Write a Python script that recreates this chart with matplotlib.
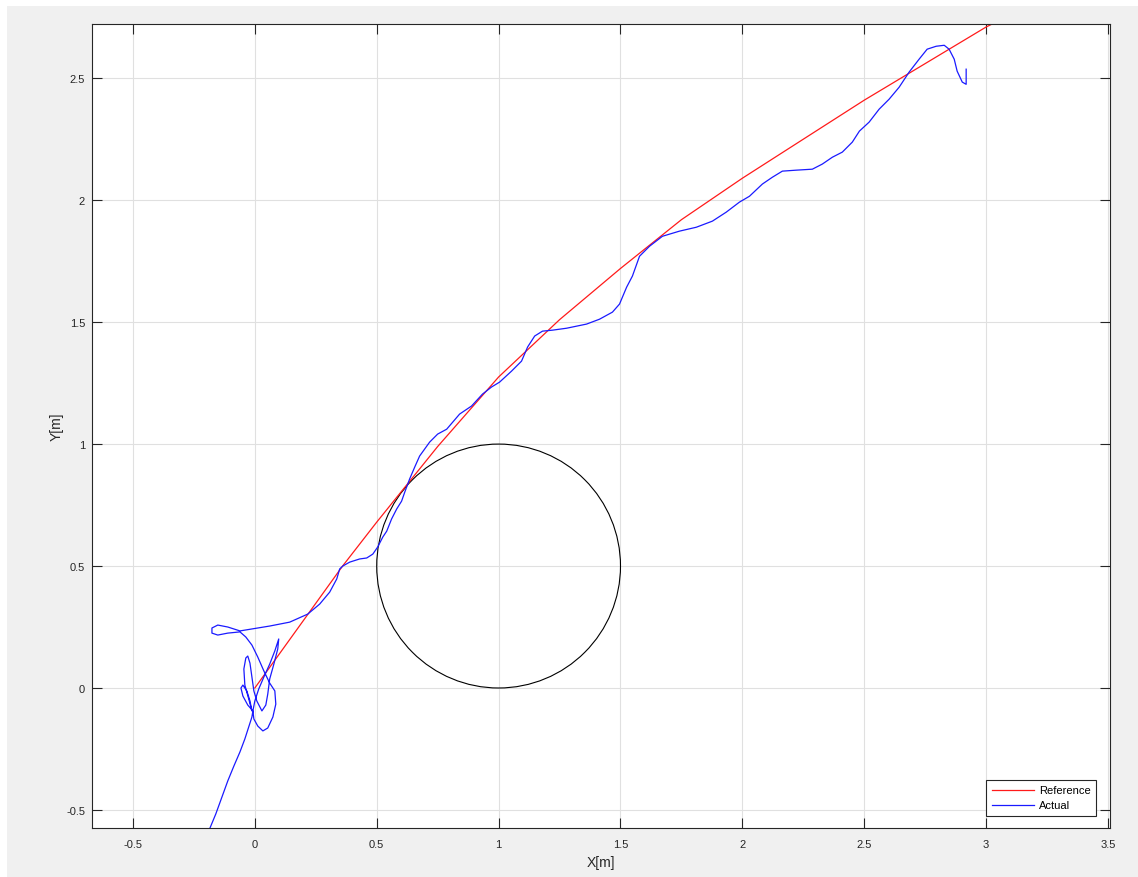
import matplotlib

matplotlib.use("Agg")
import matplotlib.pyplot as plt
from matplotlib.patches import Circle, Rectangle

# reference path [m]
ref_x = [0.0, 0.18, 0.36, 0.50, 0.75, 1.00, 1.25, 1.50, 1.75, 2.00, 2.25, 2.50, 2.75, 3.00, 3.10]
ref_y = [0.0, 0.25, 0.50, 0.68, 0.99, 1.275, 1.51, 1.72, 1.92, 2.09, 2.25, 2.41, 2.56, 2.71, 2.76]

# measured path [m]
act_x = [
    -0.184, -0.160, -0.135, -0.111, -0.086, -0.061, -0.041, -0.025, -0.012, -0.008,
    -0.029, -0.049, -0.057, -0.049, -0.033, -0.020, -0.012, -0.025, -0.041, -0.045,
    -0.037, -0.029, -0.020, -0.012, -0.004, 0.008, 0.029, 0.045, 0.053, 0.061,
    0.078, 0.094, 0.098, 0.082, 0.061, 0.037, 0.016, 0.000, -0.008, -0.004,
    0.012, 0.033, 0.053, 0.074, 0.086, 0.082, 0.061, 0.037, 0.012, -0.012,
    -0.037, -0.061, -0.111, -0.152, -0.176, -0.176, -0.152, -0.111, -0.061, 0.061,
    0.143, 0.217, 0.266, 0.307, 0.336, 0.348, 0.361, 0.389, 0.430, 0.459,
    0.484, 0.504, 0.525, 0.541, 0.561, 0.582, 0.602, 0.615, 0.635, 0.656,
    0.676, 0.717, 0.750, 0.787, 0.840, 0.889, 0.934, 0.971, 1.004, 1.053,
    1.094, 1.119, 1.148, 1.180, 1.221, 1.279, 1.361, 1.414, 1.467, 1.496,
    1.525, 1.549, 1.578, 1.619, 1.672, 1.742, 1.811, 1.877, 1.934, 1.988,
    2.029, 2.082, 2.123, 2.164, 2.221, 2.287, 2.328, 2.369, 2.410, 2.451,
    2.480, 2.520, 2.561, 2.602, 2.643, 2.684, 2.725, 2.758, 2.795, 2.828,
    2.848, 2.869, 2.881, 2.902, 2.918, 2.918,
]
act_y = [
    -0.574, -0.516, -0.447, -0.381, -0.320, -0.262, -0.209, -0.160, -0.119, -0.094,
    -0.070, -0.033, 0.000, 0.012, -0.012, -0.053, -0.094, -0.045, 0.012, 0.078,
    0.123, 0.131, 0.102, 0.045, -0.012, -0.053, -0.094, -0.070, -0.025, 0.037,
    0.098, 0.160, 0.201, 0.152, 0.098, 0.045, -0.004, -0.053, -0.094, -0.127,
    -0.156, -0.176, -0.164, -0.119, -0.066, -0.012, 0.020, 0.070, 0.127, 0.176,
    0.209, 0.230, 0.225, 0.217, 0.225, 0.246, 0.258, 0.250, 0.234, 0.254,
    0.270, 0.303, 0.344, 0.393, 0.447, 0.488, 0.500, 0.516, 0.529, 0.533,
    0.549, 0.578, 0.619, 0.643, 0.693, 0.734, 0.766, 0.803, 0.857, 0.906,
    0.951, 1.008, 1.041, 1.061, 1.123, 1.156, 1.205, 1.234, 1.254, 1.299,
    1.340, 1.398, 1.443, 1.463, 1.467, 1.475, 1.492, 1.512, 1.541, 1.574,
    1.643, 1.689, 1.770, 1.811, 1.852, 1.873, 1.889, 1.914, 1.951, 1.992,
    2.016, 2.066, 2.094, 2.119, 2.123, 2.127, 2.148, 2.176, 2.197, 2.238,
    2.283, 2.320, 2.373, 2.414, 2.463, 2.525, 2.578, 2.619, 2.631, 2.635,
    2.619, 2.578, 2.529, 2.484, 2.475, 2.537,
]

# obstacle
obs_center = (1.0, 0.5)
obs_radius = 0.5

x_ticks = [-0.5, 0, 0.5, 1, 1.5, 2, 2.5, 3, 3.5]
x_tick_labels = ["-0.5", "0", "0.5", "1", "1.5", "2", "2.5", "3", "3.5"]
y_ticks = [-0.5, 0, 0.5, 1, 1.5, 2, 2.5]
y_tick_labels = ["-0.5", "0", "0.5", "1", "1.5", "2", "2.5"]

plt.rcParams["font.family"] = ["Liberation Sans", "DejaVu Sans"]

fig = plt.figure(figsize=(11.38, 8.78), dpi=100, facecolor="white")
# gray window area of the screenshot
fig.patches.append(
    Rectangle((7 / 1138, 0), 1 - 7 / 1138, 1 - 7 / 878, transform=fig.transFigure,
              facecolor="#f0f0f0", edgecolor="none", zorder=-10)
)

ax = fig.add_axes([92 / 1138, 1 - 829 / 878, (1109.5 - 92) / 1138, (829 - 25.3) / 878])
ax.set_facecolor("white")

ax.plot(ref_x, ref_y, color="#ff1a1a", lw=0.9, label="Reference")
ax.plot(act_x, act_y, color="#1a1aff", lw=0.9, label="Actual")
ax.add_patch(Circle(obs_center, obs_radius, fill=False, edgecolor="black", lw=0.8))

ax.set_xlim(-0.668, 3.506)
ax.set_ylim(-0.574, 2.721)
ax.set_xticks(x_ticks, x_tick_labels)
ax.set_yticks(y_ticks, y_tick_labels)
ax.grid(True, color="#e0e0e0", lw=0.8)
ax.set_axisbelow(True)

for s in ax.spines.values():
    s.set_color("#262626")
    s.set_linewidth(0.8)
ax.tick_params(direction="in", length=7, width=0.8, color="#262626",
               labelcolor="#262626", labelsize=8, top=True, right=True)
ax.tick_params(axis="x", pad=8)
ax.tick_params(axis="y", pad=5)

ax.set_xlabel("X[m]", fontsize=10, color="#262626", labelpad=4)
ax.set_ylabel("Y[m]", fontsize=10, color="#262626", labelpad=2)

leg = ax.legend(loc="lower right", bbox_to_anchor=(0.9867, 0.0149), borderaxespad=0,
                fontsize=8, fancybox=False, framealpha=1, edgecolor="#262626",
                handlelength=3.8, borderpad=0.5, labelspacing=0.45, handletextpad=0.4)
leg.get_frame().set_linewidth(0.8)

fig.savefig("out.png", dpi=100, facecolor=fig.get_facecolor())
